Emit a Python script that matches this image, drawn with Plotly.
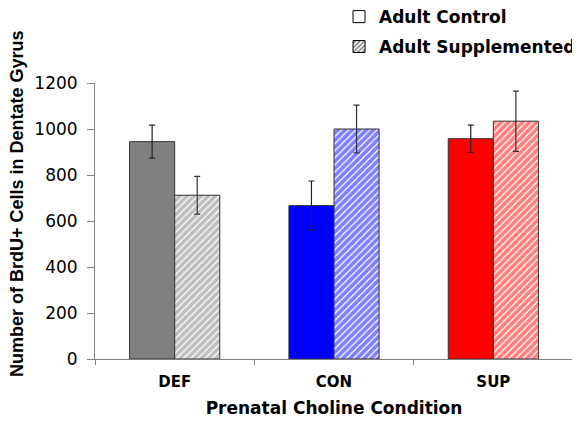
import plotly.graph_objects as go

categories = ["DEF", "CON", "SUP"]
control_values = [945, 667, 958]
control_errors = [72, 107, 59]
supplemented_values = [712, 1000, 1034]
supplemented_errors = [82, 104, 131]
group_colors = ["#808080", "#0000FF", "#FF0000"]
y_ticks = [0, 200, 400, 600, 800, 1000, 1200]
series_names = ["Adult Control", "Adult Supplemented"]

fig = go.Figure()

fig.add_trace(go.Bar(
    x=categories, y=control_values, name=series_names[0], showlegend=False, offsetgroup="ctrl",
    marker=dict(color=group_colors, line=dict(color="#333333", width=1)),
    error_y=dict(type="data", array=control_errors, color="#222222", thickness=1.2, width=3),
))
fig.add_trace(go.Bar(
    x=categories, y=supplemented_values, name=series_names[1], showlegend=False, offsetgroup="supp",
    marker=dict(color="white", line=dict(color="#333333", width=1),
                pattern=dict(shape="/", fgcolor=group_colors, bgcolor="white", size=5, solidity=0.75)),
    error_y=dict(type="data", array=supplemented_errors, color="#333333", thickness=1.2, width=3),
))

# legend entries
fig.add_trace(go.Bar(
    x=[None], y=[None], name=series_names[0], legend="legend", offsetgroup="ctrl",
    marker=dict(color="white", line=dict(color="black", width=1)),
))
fig.add_trace(go.Bar(
    x=[None], y=[None], name=series_names[1], legend="legend2", offsetgroup="supp",
    marker=dict(color="white", line=dict(color="black", width=1),
                pattern=dict(shape="/", fgcolor="black", bgcolor="white", size=4, solidity=0.5)),
))

legend_font = dict(family="DejaVu Sans", size=17, color="black", weight="bold")
fig.update_layout(
    width=572, height=413,
    margin=dict(l=87, r=7, t=75, b=62, autoexpand=False),
    paper_bgcolor="white", plot_bgcolor="white",
    barmode="group", bargap=0.434, bargroupgap=0,
    font=dict(family="DejaVu Sans", color="black"),
    legend=dict(xref="container", yref="container", x=0.5787, xanchor="left", y=0.978, yanchor="middle",
                font=legend_font, bgcolor="rgba(0,0,0,0)", itemwidth=30),
    legend2=dict(xref="container", yref="container", x=0.5787, xanchor="left", y=0.9056, yanchor="middle",
                 font=legend_font, bgcolor="rgba(0,0,0,0)", itemwidth=30),
    xaxis=dict(
        type="category", tickson="boundaries", ticks="outside", ticklen=5,
        tickcolor="#808080", showline=True, linecolor="#808080", linewidth=1,
        ticklabelstandoff=9,
        tickfont=dict(family="DejaVu Sans", size=15, color="black", weight="bold"),
        title=dict(text="Prenatal Choline Condition", standoff=12,
                   font=dict(family="DejaVu Sans", size=17, color="black", weight="bold")),
        showgrid=False,
    ),
    yaxis=dict(
        range=[0, 1200], tickvals=y_ticks, ticks="outside", ticklen=7,
        tickcolor="#808080", showline=True, linecolor="#808080", linewidth=1,
        ticklabelstandoff=6,
        tickfont=dict(family="DejaVu Sans", size=17, color="black"),
        showgrid=False, zeroline=False,
    ),
    annotations=[dict(
        text="Number of BrdU+ Cells in Dentate Gyrus", textangle=-90,
        xref="paper", yref="paper", x=-0.163, y=0.562, xanchor="center", yanchor="middle",
        showarrow=False,
        font=dict(family="Liberation Sans", size=18, color="black", weight="bold"),
    )],
)

fig.write_html("out.html")
